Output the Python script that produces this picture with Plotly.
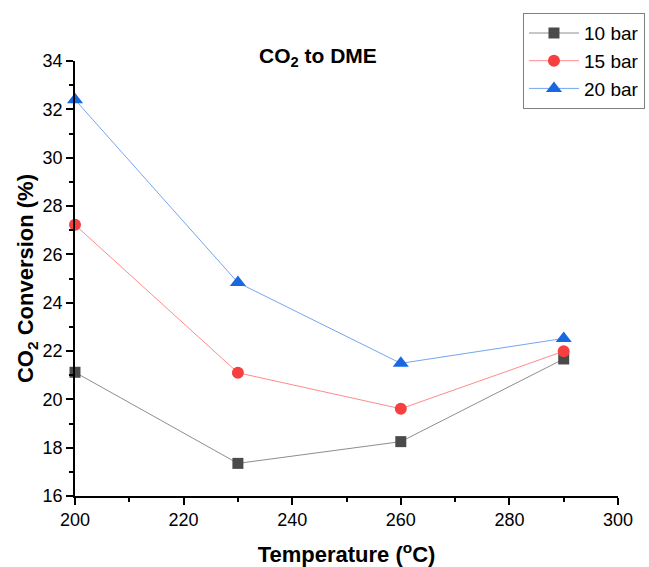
import plotly.graph_objects as go

# Reaction temperature (°C)
temperature = [200, 230, 260, 290]

# CO2 conversion (%) at each pressure
conv_10bar = [21.12, 17.35, 18.25, 21.67]
conv_15bar = [27.22, 21.10, 19.61, 21.99]
conv_20bar = [32.40, 24.83, 21.49, 22.52]

series_names = ["10 bar", "15 bar", "20 bar"]

FONT = "Arial, Liberation Sans, sans-serif"

fig = go.Figure()

styles = [
    dict(symbol="square", size=11, color="#4a4a4a", line_color="#8e8e8e"),
    dict(symbol="circle", size=12, color="#f63f3f", line_color="#ff8a8a"),
    dict(symbol="triangle-up", size=14, color="#1a68e0", line_color="#74a6ee"),
]

for name, vals, st in zip(series_names, [conv_10bar, conv_15bar, conv_20bar], styles):
    fig.add_trace(go.Scatter(
        x=temperature, y=vals, name=name, mode="lines+markers",
        line=dict(color=st["line_color"], width=1),
        marker=dict(symbol=st["symbol"], size=st["size"], color=st["color"],
                    line=dict(width=0)),
        cliponaxis=False,
    ))

axis_common = dict(
    showline=True, linecolor="black", linewidth=1.5,
    ticks="outside", ticklen=7, tickwidth=1.5, tickcolor="black",
    showgrid=False, zeroline=False, mirror=False,
    tickfont=dict(family=FONT, size=18, color="black"),
)

fig.update_xaxes(
    range=[200, 300], dtick=20, tick0=200,
    minor=dict(dtick=10, ticks="outside", ticklen=4, tickwidth=1.5, tickcolor="black"),
    title=dict(text="<b>Temperature (<sup>o</sup>C)</b>",
               font=dict(family=FONT, size=22, color="black"), standoff=17),
    **axis_common,
)
fig.update_yaxes(
    range=[16, 34], dtick=2, tick0=16,
    minor=dict(dtick=1, ticks="outside", ticklen=4, tickwidth=1.5, tickcolor="black"),
    title=dict(text="<b>CO<sub>2</sub> Conversion (%)</b>",
               font=dict(family=FONT, size=22, color="black"), standoff=3),
    **axis_common,
)

fig.add_annotation(
    text="<b>CO<sub>2</sub> to DME</b>", xref="paper", yref="paper",
    x=0.447, y=1.01, xanchor="center", yanchor="middle", showarrow=False,
    font=dict(family=FONT, size=21, color="black"),
)

fig.update_layout(
    width=649, height=567,
    margin=dict(l=75, r=31, t=61, b=71, autoexpand=False),
    paper_bgcolor="white", plot_bgcolor="white",
    showlegend=True,
    legend=dict(
        x=0.825, y=1.11, xanchor="left", yanchor="top",
        bordercolor="#808080", borderwidth=1, bgcolor="white",
        font=dict(family=FONT, size=19, color="black"),
        itemwidth=50, tracegroupgap=0,
    ),
)

fig.write_html("out.html")
